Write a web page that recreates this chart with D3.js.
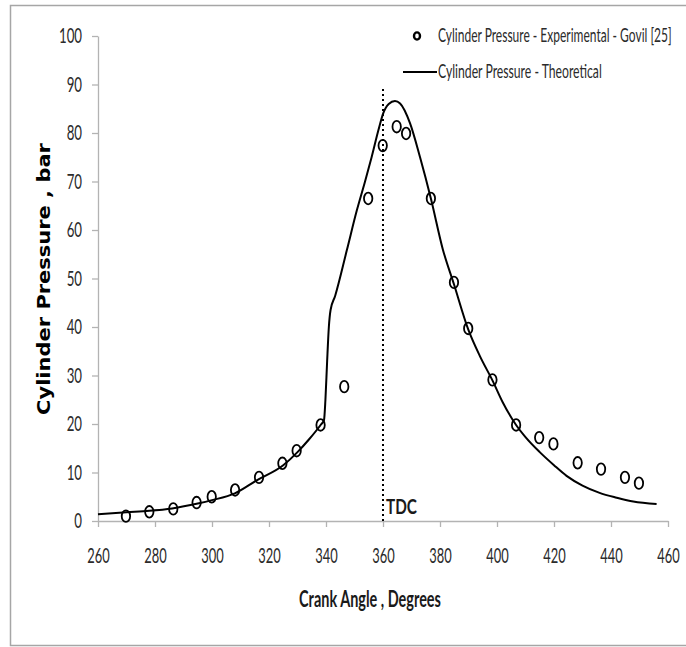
<!DOCTYPE html>
<html>
<head>
<meta charset="utf-8">
<script src="https://cdn.jsdelivr.net/npm/d3@7"></script>
<style>
  html, body { margin: 0; padding: 0; background: #fff; }
  svg { display: block; }
</style>
</head>
<body>
<div id="chart"></div>
<script>
// Experimental cylinder pressure (Govil [25])
const expAngle = [269.8, 278.0, 286.4, 294.6, 299.9, 308.1, 316.5, 324.7, 329.7, 338.1,
                  346.4, 354.8, 359.9, 364.8, 368.1, 376.8, 384.9, 389.9, 398.4, 406.7,
                  414.8, 419.8, 428.3, 436.5, 444.9, 449.8];
const expPressure = [1.0, 1.9, 2.5, 3.8, 5.0, 6.4, 9.0, 11.9, 14.5, 19.8,
                     27.7, 66.5, 77.4, 81.3, 79.9, 66.5, 49.2, 39.7, 29.1, 19.8,
                     17.2, 15.9, 12.0, 10.7, 9.0, 7.8];

// Theoretical cylinder pressure curve
const thAngle = [260, 270, 278, 286, 295, 300, 308, 316, 325, 330, 334, 338.1, 339.3, 339.8,
                 340.4, 341, 341.6, 343.2, 347.3, 350.8, 353.7, 356, 358.4, 360.1, 362, 364.2,
                 366, 369.5, 373, 376.8, 381, 384.9, 389.9, 394, 398.4, 402, 406.7, 410, 415,
                 420, 424.4, 430, 436, 442, 447.8, 456];
const thPressure = [1.4, 1.8, 2.1, 2.6, 3.6, 4.3, 5.7, 8.5, 11.5, 14.2, 16.8, 19.8, 20.8, 25,
                    33, 40, 43.5, 46.4, 55.8, 64.0, 70.0, 75.0, 80.6, 84.1, 86.0, 86.6,
                    86.1, 82, 75, 66.5, 56, 48.8, 39.5, 34, 29, 24.5, 19.8, 17.3, 14.2,
                    11.5, 9.3, 7.3, 5.8, 4.8, 4.0, 3.5];

const xTicks = [260, 280, 300, 320, 340, 360, 380, 400, 420, 440, 460];
const yTicks = [0, 10, 20, 30, 40, 50, 60, 70, 80, 90, 100];
const tdcAngle = 360;

const W = 686, H = 647;
const svg = d3.select("#chart").append("svg").attr("width", W).attr("height", H);

// Narrow a text element horizontally to a given width, keeping its anchor point fixed.
function squeeze(node, width) {
  const w = node.getComputedTextLength();
  if (!w) return;
  const s = width / w;
  const ax = +node.getAttribute("x") || 0;
  const ay = +node.getAttribute("y") || 0;
  const prev = node.getAttribute("transform") || "";
  node.setAttribute("transform",
    `${prev} translate(${ax},${ay}) scale(${s},1) translate(${-ax},${-ay})`);
}

// outer frame
svg.append("rect").attr("x", 10.5).attr("y", 5.5).attr("width", 690).attr("height", 640)
  .attr("fill", "#fff").attr("stroke", "#a6a6a6").attr("stroke-width", 1.5);

const x = d3.scaleLinear().domain([260, 460]).range([98, 668]);
const y = d3.scaleLinear().domain([0, 100]).range([521, 36]);

const tickFont = "Lato, 'Open Sans', sans-serif";
const axisColor = "#b3b3b3";

// y axis
const gy = svg.append("g").attr("transform", `translate(${x(260)},0)`)
  .call(d3.axisLeft(y).tickValues(yTicks).tickSize(6).tickPadding(10).tickSizeOuter(0));
gy.select(".domain").attr("stroke", axisColor).attr("stroke-width", 1.3);
gy.selectAll(".tick line").attr("stroke", axisColor).attr("stroke-width", 1.3);
gy.selectAll(".tick text")
  .attr("font-family", tickFont).attr("font-size", 21).attr("fill", "#2b2b2b")
  .each(function(d) { squeeze(this, String(d).length * 7.7); });

// x axis
const gx = svg.append("g").attr("transform", `translate(0,${y(0)})`)
  .call(d3.axisBottom(x).tickValues(xTicks).tickSize(6).tickPadding(21).tickSizeOuter(0));
gx.select(".domain").attr("stroke", axisColor).attr("stroke-width", 1.3);
gx.selectAll(".tick line").attr("stroke", axisColor).attr("stroke-width", 1.3);
gx.selectAll(".tick text")
  .attr("font-family", tickFont).attr("font-size", 21).attr("fill", "#2b2b2b")
  .each(function(d) { squeeze(this, String(d).length * 7.5); });

// TDC marker line
svg.append("line")
  .attr("x1", x(tdcAngle)).attr("x2", x(tdcAngle))
  .attr("y1", y(0)).attr("y2", y(89.2))
  .attr("stroke", "#000").attr("stroke-width", 2).attr("stroke-dasharray", "2,3");
svg.append("text").attr("x", x(tdcAngle) + 3).attr("y", 514)
  .attr("font-family", tickFont).attr("font-weight", "bold").attr("font-size", 21)
  .attr("fill", "#1a1a1a").text("TDC")
  .each(function() { squeeze(this, 31); });

// theoretical curve
const thData = thAngle.map((a, i) => [a, thPressure[i]]);
svg.append("path").datum(thData)
  .attr("fill", "none").attr("stroke", "#000").attr("stroke-width", 2)
  .attr("d", d3.line().x(d => x(d[0])).y(d => y(d[1])).curve(d3.curveMonotoneX));

// experimental points
svg.append("g").selectAll("ellipse")
  .data(expAngle.map((a, i) => [a, expPressure[i]]))
  .join("ellipse")
  .attr("cx", d => x(d[0])).attr("cy", d => y(d[1]))
  .attr("rx", 4.2).attr("ry", 5.8)
  .attr("fill", "none").attr("stroke", "#000").attr("stroke-width", 1.8);

// legend
const legendFont = "Lato, 'Open Sans', sans-serif";
svg.append("ellipse").attr("cx", 417).attr("cy", 36).attr("rx", 3).attr("ry", 3.6)
  .attr("fill", "none").attr("stroke", "#000").attr("stroke-width", 2.4);
svg.append("text").attr("x", 438).attr("y", 42)
  .attr("font-family", legendFont).attr("font-size", 18.5).attr("fill", "#2b2b2b")
  .text("Cylinder Pressure - Experimental - Govil [25]")
  .each(function() { squeeze(this, 234); });
svg.append("line").attr("x1", 403).attr("x2", 437).attr("y1", 72).attr("y2", 72)
  .attr("stroke", "#000").attr("stroke-width", 2);
svg.append("text").attr("x", 438).attr("y", 78)
  .attr("font-family", legendFont).attr("font-size", 18.5).attr("fill", "#2b2b2b")
  .text("Cylinder Pressure - Theoretical")
  .each(function() { squeeze(this, 164); });

// axis titles
svg.append("text").attr("x", 370).attr("y", 607).attr("text-anchor", "middle")
  .attr("font-family", tickFont).attr("font-weight", "bold").attr("font-size", 23)
  .attr("fill", "#1a1a1a")
  .text("Crank Angle , Degrees")
  .each(function() { squeeze(this, 142); });
svg.append("text").attr("transform", "translate(49.5,279) rotate(-90)")
  .attr("text-anchor", "middle")
  .attr("font-family", "'DejaVu Sans', Verdana, sans-serif").attr("font-weight", "bold")
  .attr("font-size", 17.5).attr("fill", "#000")
  .text("Cylinder Pressure , bar")
  .each(function() { squeeze(this, 272); });
</script>
</body>
</html>
